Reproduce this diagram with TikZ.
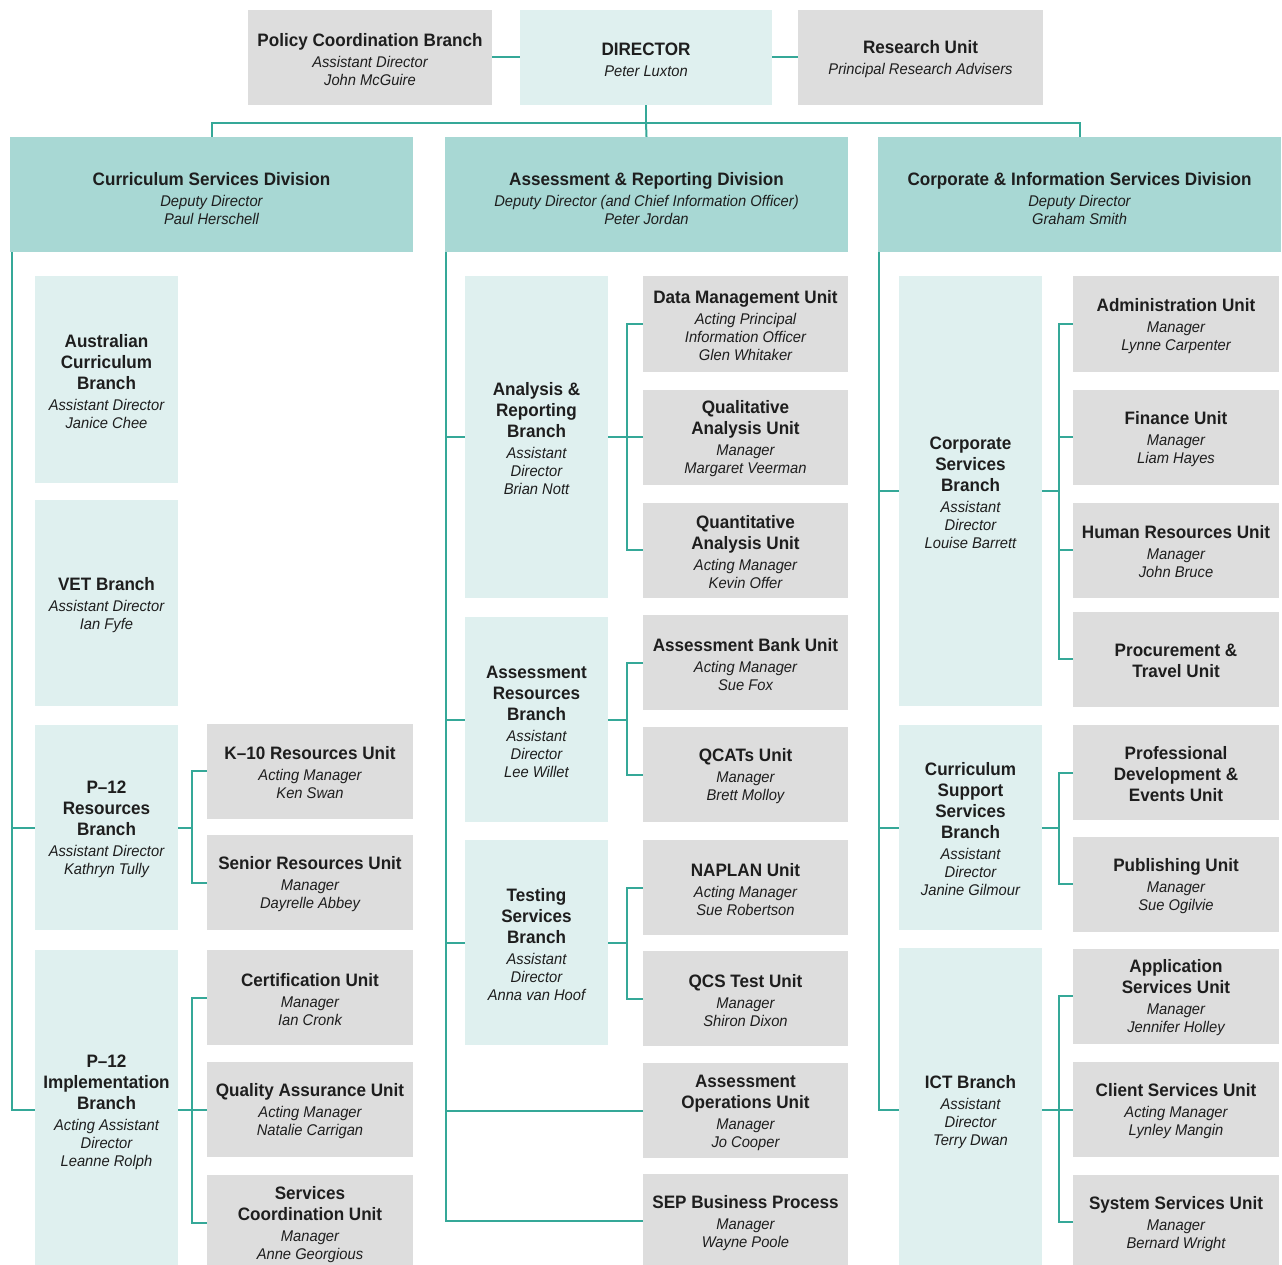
\documentclass[tikz,border=0pt]{standalone}
\usepackage{fontspec}
\setmainfont{Liberation Sans}[FakeStretch=0.95]
\definecolor{grayfill}{HTML}{DDDDDD}
\definecolor{tealpale}{HTML}{DFF0EF}
\definecolor{tealdiv}{HTML}{A8D8D4}
\definecolor{linec}{HTML}{35A898}
\definecolor{txt}{HTML}{1E1E1E}
\newcommand\hd[1]{{\fontsize{18}{18}\selectfont\bfseries\upshape #1}}
\newcommand\T{\rule{0pt}{17pt}}
\newcommand\TT{\rule{0pt}{21pt}}
\tikzset{
  box/.style={align=center, inner sep=0pt, text=txt, font=\fontsize{15.5}{18}\selectfont\itshape},
  unitbox/.style={box, fill=grayfill, minimum width=206, minimum height=95},
  branchbox/.style={box, fill=tealpale, minimum width=143},
  divbox/.style={box, fill=tealdiv, minimum width=403, minimum height=115},
  link/.style={draw=linec, line width=2pt}
}
\begin{document}
\begin{tikzpicture}[x=1pt,y=-1pt]
\useasboundingbox[fill=white] (0,0) rectangle (1282,1265);
% top row
\node[unitbox, minimum width=244] (pcb) at (370,57.5) {\T\hd{Policy Coordination Branch}\\[3pt]Assistant Director\\John McGuire};
\node[branchbox, minimum width=252, minimum height=95] (dir) at (646,57.5) {\T\hd{DIRECTOR}\\[3pt]Peter Luxton};
\node[unitbox, minimum width=245] (ru) at (920.5,57.5) {\T\hd{Research Unit}\\[3pt]Principal Research Advisers};
% divisions
\node[divbox] (csd) at (211.5,194.5) {\TT\hd{Curriculum Services Division}\\[3pt]Deputy Director\\Paul Herschell};
\node[divbox] (ard) at (646.5,194.5) {\TT\hd{Assessment \& Reporting Division}\\[3pt]Deputy Director (and Chief Information Officer)\\Peter Jordan};
\node[divbox] (cisd) at (1079.5,194.5) {\TT\hd{Corporate \& Information Services Division}\\[3pt]Deputy Director\\Graham Smith};
% left branches
\node[branchbox, minimum height=207] (acb) at (106.5,379.5) {\T\hd{Australian}\\[3pt]\hd{Curriculum}\\[3pt]\hd{Branch}\\[3pt]Assistant Director\\Janice Chee};
\node[branchbox, minimum height=206] (vet) at (106.5,603) {\T\hd{VET Branch}\\[3pt]Assistant Director\\Ian Fyfe};
\node[branchbox, minimum height=205] (p12r) at (106.5,827.5) {\T\hd{P--12}\\[3pt]\hd{Resources}\\[3pt]\hd{Branch}\\[3pt]Assistant Director\\Kathryn Tully};
\node[branchbox, minimum height=320] (p12i) at (106.5,1110) {\T\hd{P--12}\\[3pt]\hd{Implementation}\\[3pt]\hd{Branch}\\[3pt]Acting Assistant\\Director\\Leanne Rolph};
% left units
\node[unitbox] (k10) at (310,771) {\T\hd{K--10 Resources Unit}\\[3pt]Acting Manager\\Ken Swan};
\node[unitbox] (sru) at (310,882.5) {\T\hd{Senior Resources Unit}\\[3pt]Manager\\Dayrelle Abbey};
\node[unitbox] (cert) at (310,997.5) {\T\hd{Certification Unit}\\[3pt]Manager\\Ian Cronk};
\node[unitbox] (qa) at (310,1109.5) {\T\hd{Quality Assurance Unit}\\[3pt]Acting Manager\\Natalie Carrigan};
\node[unitbox] (sc) at (310,1222.5) {\T\hd{Services}\\[3pt]\hd{Coordination Unit}\\[3pt]Manager\\Anne Georgious};
% middle branches
\node[branchbox, minimum height=322] (arb) at (536.5,437) {\T\hd{Analysis \&}\\[3pt]\hd{Reporting}\\[3pt]\hd{Branch}\\[3pt]Assistant\\Director\\Brian Nott};
\node[branchbox, minimum height=205] (asrb) at (536.5,719.5) {\T\hd{Assessment}\\[3pt]\hd{Resources}\\[3pt]\hd{Branch}\\[3pt]Assistant\\Director\\Lee Willet};
\node[branchbox, minimum height=205] (tsb) at (536.5,942.5) {\T\hd{Testing}\\[3pt]\hd{Services}\\[3pt]\hd{Branch}\\[3pt]Assistant\\Director\\Anna van Hoof};
% middle units
\node[unitbox, minimum width=205] (dmu) at (745.5,324) {\T\hd{Data Management Unit}\\[3pt]Acting Principal\\Information Officer\\Glen Whitaker};
\node[unitbox, minimum width=205] (qlu) at (745.5,437) {\T\hd{Qualitative}\\[3pt]\hd{Analysis Unit}\\[3pt]Manager\\Margaret Veerman};
\node[unitbox, minimum width=205] (qnu) at (745.5,550) {\T\hd{Quantitative}\\[3pt]\hd{Analysis Unit}\\[3pt]Acting Manager\\Kevin Offer};
\node[unitbox, minimum width=205] (abu) at (745.5,662.5) {\T\hd{Assessment Bank Unit}\\[3pt]Acting Manager\\Sue Fox};
\node[unitbox, minimum width=205] (qcat) at (745.5,774.5) {\T\hd{QCATs Unit}\\[3pt]Manager\\Brett Molloy};
\node[unitbox, minimum width=205] (nap) at (745.5,887.5) {\T\hd{NAPLAN Unit}\\[3pt]Acting Manager\\Sue Robertson};
\node[unitbox, minimum width=205] (qcs) at (745.5,998.5) {\T\hd{QCS Test Unit}\\[3pt]Manager\\Shiron Dixon};
\node[unitbox, minimum width=205] (aou) at (745.5,1110.5) {\T\hd{Assessment}\\[3pt]\hd{Operations Unit}\\[3pt]Manager\\Jo Cooper};
\node[unitbox, minimum width=205] (sep) at (745.5,1221) {\T\hd{SEP Business Process}\\[3pt]Manager\\Wayne Poole};
% right branches
\node[branchbox, minimum height=430] (csb) at (970.5,491) {\T\hd{Corporate}\\[3pt]\hd{Services}\\[3pt]\hd{Branch}\\[3pt]Assistant\\Director\\Louise Barrett};
\node[branchbox, minimum height=205] (cssb) at (970.5,827.5) {\T\hd{Curriculum}\\[3pt]\hd{Support}\\[3pt]\hd{Services}\\[3pt]\hd{Branch}\\[3pt]Assistant\\Director\\Janine Gilmour};
\node[branchbox, minimum height=324] (ict) at (970.5,1110) {\T\hd{ICT Branch}\\[3pt]Assistant\\Director\\Terry Dwan};
% right units
\node[unitbox] (adm) at (1176,324) {\T\hd{Administration Unit}\\[3pt]Manager\\Lynne Carpenter};
\node[unitbox] (fin) at (1176,437) {\T\hd{Finance Unit}\\[3pt]Manager\\Liam Hayes};
\node[unitbox] (hr) at (1176,550) {\T\hd{Human Resources Unit}\\[3pt]Manager\\John Bruce};
\node[unitbox] (pt) at (1176,659) {\T\hd{Procurement \&}\\[3pt]\hd{Travel Unit}};
\node[unitbox] (pde) at (1176,772.5) {\T\hd{Professional}\\[3pt]\hd{Development \&}\\[3pt]\hd{Events Unit}};
\node[unitbox] (pub) at (1176,884) {\T\hd{Publishing Unit}\\[3pt]Manager\\Sue Ogilvie};
\node[unitbox] (asu) at (1176,996) {\T\hd{Application}\\[3pt]\hd{Services Unit}\\[3pt]Manager\\Jennifer Holley};
\node[unitbox] (csu) at (1176,1109.5) {\T\hd{Client Services Unit}\\[3pt]Acting Manager\\Lynley Mangin};
\node[unitbox] (ssu) at (1176,1222) {\T\hd{System Services Unit}\\[3pt]Manager\\Bernard Wright};
% top connectors
\draw[link] (pcb.east) -- (dir.west);
\draw[link] (dir.east) -- (ru.west);
\coordinate (hub) at (646,123);
\draw[link] (dir.south) -- (hub);
\draw[link] (hub) -| (csd.north);
\draw[link] (hub) -| (cisd.north);
\draw[link] (hub) -- (ard.north);
% trunks
\coordinate (csdT) at ([xshift=2]csd.south west);
\coordinate (ardT) at ([xshift=1]ard.south west);
\coordinate (cisdT) at ([xshift=1]cisd.south west);
\draw[link] (csdT) |- (p12r.west);
\draw[link] (csdT) |- (p12i.west);
\draw[link] (ardT) |- (arb.west);
\draw[link] (ardT) |- (asrb.west);
\draw[link] (ardT) |- (tsb.west);
\draw[link] (ardT) |- (aou.west);
\draw[link] (ardT) |- (sep.west);
\draw[link] (cisdT) |- (csb.west);
\draw[link] (cisdT) |- (cssb.west);
\draw[link] (cisdT) |- (ict.west);
% branch to units
\foreach \u in {k10,sru} {\draw[link] (p12r.east) -- ++(14,0) |- (\u.west);}
\foreach \u in {cert,qa,sc} {\draw[link] (p12i.east) -- ++(14,0) |- (\u.west);}
\foreach \u in {dmu,qlu,qnu} {\draw[link] (arb.east) -- ++(19,0) |- (\u.west);}
\foreach \u in {abu,qcat} {\draw[link] (asrb.east) -- ++(19,0) |- (\u.west);}
\foreach \u in {nap,qcs} {\draw[link] (tsb.east) -- ++(19,0) |- (\u.west);}
\foreach \u in {adm,fin,hr,pt} {\draw[link] (csb.east) -- ++(17,0) |- (\u.west);}
\foreach \u in {pde,pub} {\draw[link] (cssb.east) -- ++(17,0) |- (\u.west);}
\foreach \u in {asu,csu,ssu} {\draw[link] (ict.east) -- ++(17,0) |- (\u.west);}
\end{tikzpicture}
\end{document}
